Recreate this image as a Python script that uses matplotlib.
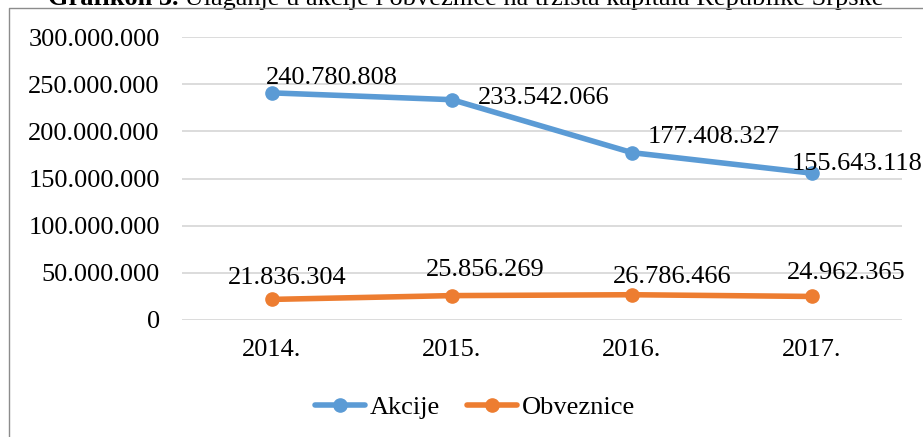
import matplotlib
matplotlib.use("Agg")
import matplotlib.pyplot as plt
from matplotlib.lines import Line2D
from matplotlib.ticker import FuncFormatter

plt.rcParams["font.family"] = ["Liberation Serif", "DejaVu Serif"]

years = ["2014.", "2015.", "2016.", "2017."]
akcije = [240780808, 233542066, 177408327, 155643118]
obveznice = [21836304, 25856269, 26786466, 24962365]
y_ticks = [0, 50000000, 100000000, 150000000, 200000000, 250000000, 300000000]

# label placement (pixels from the point, horizontal alignment)
akcije_offsets = [(-6, 9, "left"), (26, -4, "left"), (16, 10, "left"), (-20, 3, "left")]
obveznice_offsets = [(15, 15, "center"), (33, 20, "center"), (40, 12, "center"), (34, 17, "center")]

blue = "#5B9BD5"
orange = "#ED7D31"
W, H = 923, 437
fs = 19

fig = plt.figure(figsize=(W / 100, H / 100), dpi=100)
ax = fig.add_axes([182 / W, (H - 320) / H, 720 / W, 283 / H])

x = range(len(years))
ax.plot(x, akcije, color=blue, lw=4, marker="o", ms=9.5, label="Akcije",
        solid_capstyle="round")
ax.plot(x, obveznice, color=orange, lw=4, marker="o", ms=9.5, label="Obveznice",
        solid_capstyle="round")


def fmt(v):
    return f"{int(v):,}".replace(",", ".")


for xi, v, (dx, dy, ha) in zip(x, akcije, akcije_offsets):
    ax.annotate(fmt(v), (xi, v), xytext=(dx, dy), textcoords="offset pixels",
                ha=ha, va="baseline", fontsize=fs, annotation_clip=False)
for xi, v, (dx, dy, ha) in zip(x, obveznice, obveznice_offsets):
    ax.annotate(fmt(v), (xi, v), xytext=(dx, dy), textcoords="offset pixels",
                ha=ha, va="baseline", fontsize=fs, annotation_clip=False)

ax.set_xlim(-0.5, len(years) - 0.5)
ax.set_ylim(0, 300000000)
ax.set_xticks(list(x))
ax.set_xticklabels(years)
ax.set_yticks(y_ticks)
ax.yaxis.set_major_formatter(FuncFormatter(lambda v, p: fmt(v)))
ax.tick_params(axis="y", length=0, pad=16, labelsize=fs)
ax.tick_params(axis="x", length=0, pad=14, labelsize=fs)
ax.grid(axis="y", color="#d9d9d9", lw=1.3)
ax.set_axisbelow(True)
for s in ax.spines.values():
    s.set_visible(False)

fig.legend(loc="center", bbox_to_anchor=(475 / W, 1 - 407 / H), ncol=2,
           frameon=False, fontsize=fs, handlelength=1.9, handletextpad=0.2,
           columnspacing=1.0)

# outer chart frame (cut off at right and bottom)
fig.add_artist(Line2D([9 / W, 9 / W, 1], [0, 1 - 8 / H, 1 - 8 / H],
                      color="#8c8c8c", lw=1))

# title, cut off at the top like in the source
t1 = fig.text(48 / W, 1 - 5 / H, "Grafikon 3.", fontsize=fs, fontweight="bold",
              va="baseline", ha="left")
ax.annotate(" Ulaganje u akcije i obveznice na tržišta kapitala Republike Srpske",
            xy=(1, 0), xycoords=t1, va="bottom", ha="left",
            fontsize=fs, annotation_clip=False)

fig.savefig("out.png", dpi=100)
